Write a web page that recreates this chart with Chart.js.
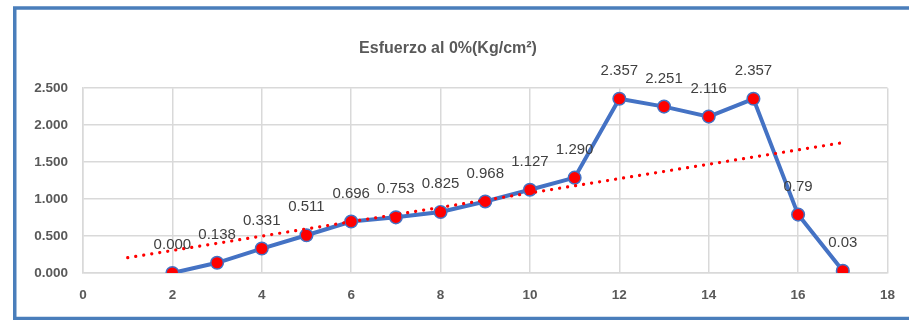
<!DOCTYPE html>
<html lang="es">

<head>
    <meta charset="UTF-8">
    <script src="https://cdn.jsdelivr.net/npm/chart.js"></script>
    <title>Esfuerzo al 0%</title>
    <style>
        html, body { margin: 0; padding: 0; background: #fff; }
        #wrap { width: 909px; height: 320px; }
    </style>
</head>

<body>
    <div id="wrap">
        <canvas id="myChart" width="909" height="320"></canvas>
    </div>
</body>
<script>
    // datos
    var xs = [2, 3, 4, 5, 6, 7, 8, 9, 10, 11, 12, 13, 14, 15, 16, 17];
    var esfuerzo = [0, 0.138, 0.331, 0.511, 0.696, 0.753, 0.825, 0.968, 1.127, 1.290, 2.357, 2.251, 2.116, 2.357, 0.79, 0.03];
    var etiquetas = ['0.000', '0.138', '0.331', '0.511', '0.696', '0.753', '0.825', '0.968', '1.127', '1.290', '2.357', '2.251', '2.116', '2.357', '0.79', '0.03'];
    // linea de tendencia (extremos)
    var trendX = [1, 17];
    var trendY = [0.207, 1.763];

    var pts = xs.map((x, i) => ({ x: x, y: esfuerzo[i] }));
    var trendPts = trendX.map((x, i) => ({ x: x, y: trendY[i] }));

    var frame = {
        id: 'frame',
        afterDraw(chart) {
            let ctx = chart.ctx;
            ctx.save();
            ctx.strokeStyle = '#4a7ebb';
            ctx.lineWidth = 3.5;
            ctx.strokeRect(14.75, 8, 940, 310.5);
            ctx.restore();
        }
    };

    var valueLabels = {
        id: 'valueLabels',
        afterDatasetsDraw(chart) {
            let ctx = chart.ctx;
            let meta = chart.getDatasetMeta(1);
            ctx.save();
            ctx.font = '15px "Liberation Sans", Arial, sans-serif';
            ctx.fillStyle = '#404040';
            ctx.textAlign = 'center';
            ctx.textBaseline = 'middle';
            meta.data.forEach((p, i) => {
                ctx.fillText(etiquetas[i], p.x, p.y - 28);
            });
            ctx.restore();
        }
    };

    var data = {
        datasets: [{
            label: 'Tendencia',
            data: trendPts,
            borderColor: '#ff0000',
            borderWidth: 3.2,
            borderDash: [0.1, 8],
            borderCapStyle: 'round',
            pointRadius: 0,
            showLine: true,
            fill: false
        }, {
            label: 'Esfuerzo',
            data: pts,
            borderColor: '#4472c4',
            borderWidth: 4,
            backgroundColor: '#ff0000',
            pointBackgroundColor: '#ff0000',
            pointBorderColor: '#4472c4',
            pointBorderWidth: 1.5,
            pointRadius: 6.3,
            showLine: true,
            fill: false
        }]
    };

    var tickFont = { family: '"Liberation Sans", Arial, sans-serif', size: 13.5, weight: 'bold' };

    var config = {
        type: 'scatter',
        data: data,
        options: {
            responsive: false,
            animation: false,
            layout: { padding: { left: 0, right: 13, top: 0, bottom: 0 } },
            plugins: {
                legend: { display: false },
                tooltip: { enabled: false },
                title: {
                    display: true,
                    text: 'Esfuerzo al 0%(Kg/cm²)',
                    color: '#595959',
                    font: { family: '"Liberation Sans", Arial, sans-serif', size: 16, weight: 'bold' },
                    padding: { top: 39, bottom: 30 }
                }
            },
            scales: {
                x: {
                    type: 'linear',
                    min: 0,
                    max: 18,
                    ticks: { stepSize: 2, color: '#595959', font: tickFont, padding: 14 },
                    grid: { color: '#d9d9d9', lineWidth: 1.5, drawTicks: false },
                    border: { color: '#d9d9d9', width: 1.5 },
                    afterFit(scale) { scale.height = 47; }
                },
                y: {
                    min: 0,
                    max: 2.5,
                    ticks: {
                        stepSize: 0.5,
                        color: '#595959',
                        font: tickFont,
                        padding: 15,
                        callback: v => v.toFixed(3)
                    },
                    grid: { color: '#d9d9d9', lineWidth: 1.5, drawTicks: false },
                    border: { color: '#d9d9d9', width: 1.5 },
                    afterFit(scale) { scale.width = 83; }
                }
            }
        },
        plugins: [valueLabels, frame]
    };
    var myChart = new Chart(document.getElementById('myChart'), config);
</script>

</html>
